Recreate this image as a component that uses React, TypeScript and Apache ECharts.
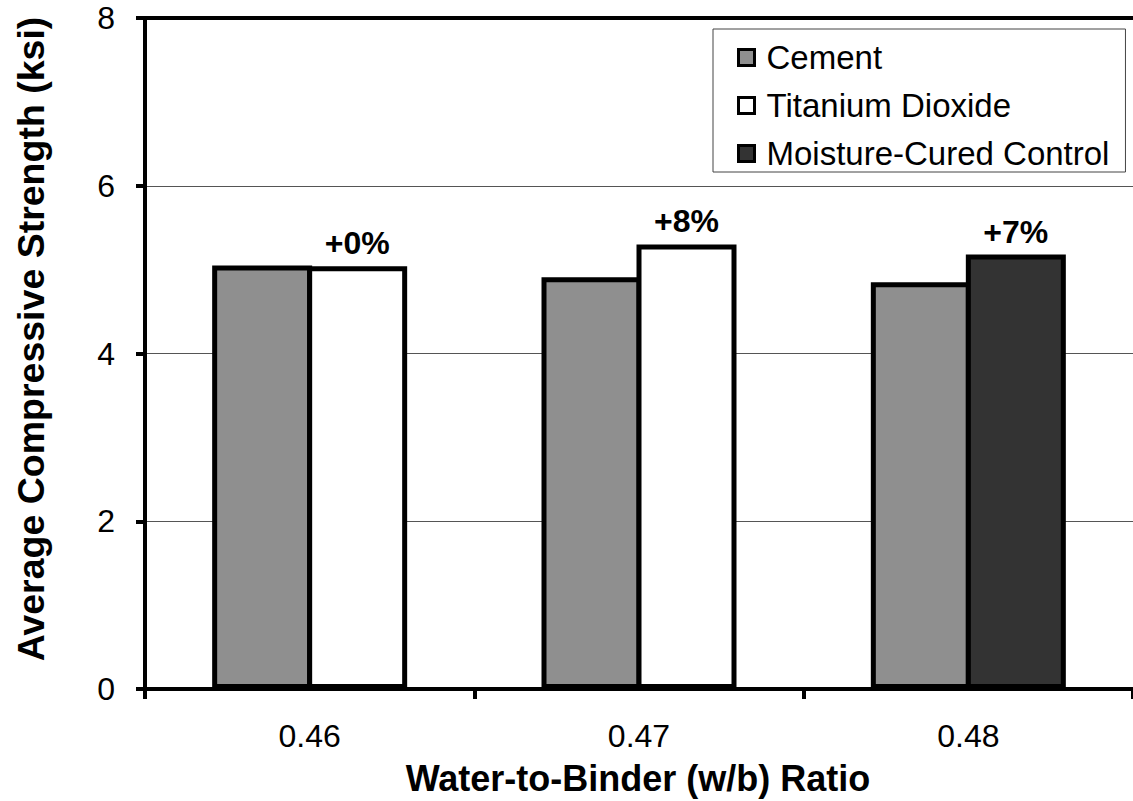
import React, { useEffect, useRef } from "react";
import * as echarts from "echarts";

const categories = ["0.46", "0.47", "0.48"];
const cementValues = [5.05, 4.91, 4.85];
const titaniumValues: (number | null)[] = [5.04, 5.3, null];
const moistureValues: (number | null)[] = [null, null, 5.18];
const titaniumLabels = ["+0%", "+8%", ""];
const moistureLabels = ["", "", "+7%"];
const yTicks = { min: 0, max: 8, interval: 2 };

const FONT = "Liberation Sans, Arial, sans-serif";

export default function App() {
  const ref = useRef<HTMLDivElement>(null);
  useEffect(() => {
    if (!ref.current) return;
    const chart = echarts.init(ref.current, undefined, { renderer: "svg" });
    const labelStyle = {
      show: true,
      position: "top" as const,
      distance: 7,
      fontFamily: FONT,
      fontSize: 32,
      fontWeight: "bold" as const,
      color: "#000",
    };
    chart.setOption({
      animation: false,
      backgroundColor: "#fff",
      textStyle: { fontFamily: FONT },
      grid: { left: 145, right: -10, top: 18, bottom: 112, containLabel: false },
      legend: {
        data: ["Cement", "Titanium Dioxide", "Moisture-Cured Control"],
        orient: "vertical",
        left: 713,
        top: 29,
        padding: [12, 16, 2, 24],
        itemGap: 15,
        itemWidth: 16,
        itemHeight: 16,
        backgroundColor: "#fff",
        borderColor: "#444",
        borderWidth: 1,
        borderRadius: 0,
        icon: "rect",
        itemStyle: { borderWidth: 3, borderColor: "#000" },
        textStyle: { fontFamily: FONT, fontSize: 33, color: "#000", padding: [0, 0, 0, 7] },
      },
      xAxis: [
        {
          type: "category",
          data: categories,
          axisLine: { lineStyle: { color: "#000", width: 4 } },
          axisTick: { show: true, length: 10, lineStyle: { color: "#000", width: 4 } },
          axisLabel: { fontFamily: FONT, fontSize: 32, color: "#000", margin: 31 },
          splitLine: { show: false },
        },
        {
          type: "category",
          data: categories,
          position: "top",
          axisLine: { show: true, lineStyle: { color: "#000", width: 4 } },
          axisTick: { show: false },
          axisLabel: { show: false },
          splitLine: { show: false },
        },
      ],
      yAxis: {
        type: "value",
        min: yTicks.min,
        max: yTicks.max,
        interval: yTicks.interval,
        axisLine: { show: true, lineStyle: { color: "#000", width: 4 } },
        axisTick: { show: true, length: 9, lineStyle: { color: "#000", width: 4 } },
        axisLabel: { fontFamily: FONT, fontSize: 32, color: "#000", margin: 30 },
        splitLine: { show: true, lineStyle: { color: "#555", width: 1 } },
      },
      graphic: [
        {
          type: "text",
          x: 31,
          y: 339,
          rotation: Math.PI / 2,
          style: {
            text: "Average Compressive Strength (ksi)",
            font: `bold 37.5px ${FONT}`,
            fill: "#000",
            textAlign: "center",
            textVerticalAlign: "middle",
          },
        },
        {
          type: "text",
          x: 638,
          y: 778,
          style: {
            text: "Water-to-Binder (w/b) Ratio",
            font: `bold 36px ${FONT}`,
            fill: "#000",
            textAlign: "center",
            textVerticalAlign: "middle",
          },
        },
      ],
      series: [
        {
          name: "Cement",
          type: "bar",
          data: cementValues,
          barWidth: 100,
          barGap: "-5%",
          itemStyle: { color: "#8f8f8f", borderColor: "#000", borderWidth: 5 },
        },
        {
          name: "Titanium Dioxide",
          type: "bar",
          stack: "treated",
          data: titaniumValues,
          barWidth: 100,
          barGap: "-5%",
          itemStyle: { color: "#ffffff", borderColor: "#000", borderWidth: 5 },
          label: { ...labelStyle, formatter: (p: any) => titaniumLabels[p.dataIndex] },
        },
        {
          name: "Moisture-Cured Control",
          type: "bar",
          stack: "treated",
          data: moistureValues,
          barWidth: 100,
          barGap: "-5%",
          itemStyle: { color: "#333333", borderColor: "#000", borderWidth: 5 },
          label: { ...labelStyle, formatter: (p: any) => moistureLabels[p.dataIndex] },
        },
      ],
    });
    return () => chart.dispose();
  }, []);
  return (
    <div
      ref={ref}
      style={{ position: "absolute", left: 0, top: 0, width: 1133, height: 801 }}
    />
  );
}
